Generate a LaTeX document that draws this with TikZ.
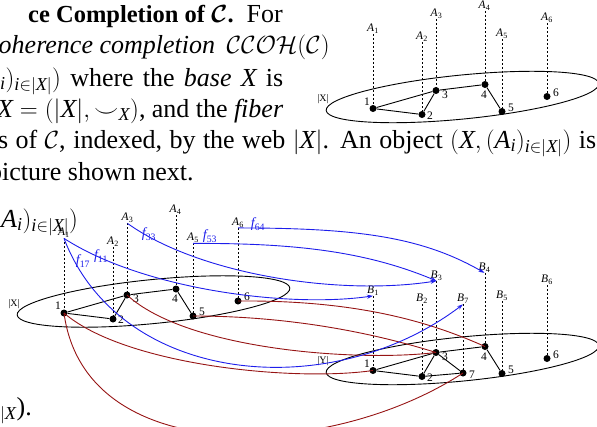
\documentclass[tikz,border=0pt]{standalone}
\usepackage{fontspec}
\setmainfont{Liberation Serif}
\usepackage{amsmath}
\usetikzlibrary{shapes.geometric,arrows.meta}
\definecolor{fblue}{RGB}{30,30,235}
\definecolor{mred}{RGB}{150,20,20}
\newcommand\ti[1]{\text{\itshape #1}}
\newcommand\lab[2]{$\ti{#1}_{\text{#2}}$}
\tikzset{
 webell/.style={draw, ellipse, line width=0.9pt, minimum width=274pt, minimum height=44pt, inner sep=0pt, rotate=5.65},
 wdot/.style={circle, fill=black, inner sep=0pt, minimum size=7pt},
 webedge/.style={line width=0.9pt},
 fib/.style={dash pattern=on 2pt off 2pt, line width=0.7pt},
 flab/.style={inner sep=0.5pt, font=\fontsize{11.5}{11.5}\selectfont},
 num/.style={inner sep=0pt, font=\fontsize{11.5}{11.5}\selectfont},
 wname/.style={inner sep=0pt, font=\fontsize{10}{10}\selectfont},
 bl/.style={draw=fblue, line width=0.9pt, -{Stealth[length=6pt,width=4pt]}},
 rd/.style={draw=mred, line width=0.9pt},
 flabel/.style={text=fblue, inner sep=0pt, font=\fontsize{14}{14}\selectfont},
 txt/.style={inner sep=0pt, anchor=base west, font=\fontsize{26}{31}\selectfont},
}
% common part of a web picture: #1 prefix, #2 fibre letter, #3 web letter
\newcommand{\webbase}[3]{%
  \node[webell] (#1e) at (153.5,301.5) {};
  \node[wname] (#1w) at (14,304) {|#3|};
  \node[wdot] (#1n1) at (64,313) {};
  \node[wdot] (#1n2) at (113,319) {};
  \node[wdot] (#1n3) at (127,295) {};
  \node[wdot] (#1n4) at (176,289) {};
  \node[wdot] (#1n5) at (193,316) {};
  \node[wdot] (#1n6) at (238,301) {};
  \node[num] (#1l1) at (58,306) {1};
  \node[num] (#1l2) at (121,320) {2};
  \node[num] (#1l3) at (136,299) {3};
  \node[num] (#1l4) at (175,299) {4};
  \node[num] (#1l5) at (202,312) {5};
  \node[num] (#1l6) at (247,297) {6};
  \node[flab] (#1a1) at (64,233) {\lab{#2}{1}};
  \node[flab] (#1a2) at (113,241.5) {\lab{#2}{2}};
  \node[flab] (#1a3) at (127.5,218) {\lab{#2}{3}};
  \node[flab] (#1a4) at (175.5,210) {\lab{#2}{4}};
  \node[flab] (#1a5) at (193,238) {\lab{#2}{5}};
  \node[flab] (#1a6) at (238,222.5) {\lab{#2}{6}};
  \foreach \k in {1,...,6} {\draw[fib] (#1n\k |- #1a\k.south) -- (#1n\k.center);}
  \draw[webedge] (#1n1) -- (#1n2) -- (#1n3) -- (#1n1);
  \draw[webedge] (#1n3) -- (#1n4) -- (#1n5);
}
\begin{document}
\begin{tikzpicture}[x=1pt,y=-1pt]
\useasboundingbox (0,0) rectangle (597,426);
% ---- text ----
\node[txt, font=\fontsize{24.5}{31}\selectfont] (t1) at (28,22) {\textbf{ce Completion of \boldmath$\mathcal{C}$.}};
\node[txt, anchor=base east] (t1b) at (283,22) {For};
\node[txt] (t2) at (-13,53) {\textit{coherence completion}\hspace{5pt} $\mathcal{CCOH}(\mathcal{C})$};
\node[txt] (t3) at (-16,86) {\hbox to 299pt{$\ti{A}_{\ti{i}})_{\ti{i}\in|\ti{X}|})$ where the \textit{base} $\ti{X}$ is}};
\node[txt] (t4) at (-3,117) {\hbox to 286pt{$\ti{X} = (|\ti{X}|, \smile_{\ti{X}})$, and the \textit{fiber}}};
\node[txt] (t5) at (-2,148) {\hbox to 598pt{s of $\mathcal{C}$, indexed, by the web $|\ti{X}|$. An object $(\ti{X}, (\ti{A}_{\ti{i}})_{\ti{i}\in|\ti{X}|})$ is}};
\node[txt] (t6) at (-11,180) {picture shown next.};
\node[txt] (t7) at (1,227) {$\ti{A}_{\ti{i}})_{\ti{i}\in|\ti{X}|})$};
\node[txt] (t8) at (0,415) {${}_{|\ti{X}}$).};
% ---- top web ----
\begin{scope}[shift={(309,-204.5)}]
  \webbase{T}{A}{X}
\end{scope}
% ---- bottom web X ----
\webbase{X}{A}{X}
% ---- web Y ----
\begin{scope}[shift={(309,57.5)}]
  \webbase{Y}{B}{Y}
  \node[wdot] (Yn7) at (154,315.5) {};
  \node[num] (Yl7) at (163,317.5) {7};
  \node[flab] (Ya7) at (154,241.5) {\lab{B}{7}};
  \draw[fib] (Yn7 |- Ya7.south) -- (Yn7.center);
  \draw[webedge] (Yn3) -- (Yn7) -- (Yn2);
\end{scope}
% ---- red maps on webs ----
\draw[rd] (Xn1.center) .. controls (124,365) and (293,382) .. (Yn1.center);
\draw[rd] (Xn1.center) .. controls (85,470) and (330,460) .. (Yn7.center);
\draw[rd] (Xn3.center) .. controls (187,350) and (357,362) .. (Yn3.center);
\draw[rd] (Xn5.center) .. controls (293,316) and (377,334) .. (Yn3.center);
\draw[rd] (Xn6.center) .. controls (358,300) and (430,322) .. (Yn4.center);
% ---- blue fibre maps ----
\draw[bl] (Xa1.south) .. controls (120,385) and (330,405) .. (Ya7.south);
\draw[bl] (Xa1.south) .. controls (144,290) and (290,308) .. (Ya1.south);
\draw[bl] (Xa3.south) .. controls (200,275) and (340,296) .. (Ya3.south);
\draw[bl] (Xa5.south) .. controls (293,243) and (365,251) .. (Ya3.south);
\draw[bl] (Xa6.south) .. controls (358,228) and (422,237) .. (Ya4.south);
\node[flabel] (f17) at (83,261) {$\ti{f}_{\text{17}}$};
\node[flabel] (f11) at (101,256) {$\ti{f}_{\text{11}}$};
\node[flabel] (f33) at (149,234) {$\ti{f}_{\text{33}}$};
\node[flabel] (f53) at (210,236) {$\ti{f}_{\text{53}}$};
\node[flabel] (f64) at (258,224) {$\ti{f}_{\text{64}}$};
\end{tikzpicture}
\end{document}
